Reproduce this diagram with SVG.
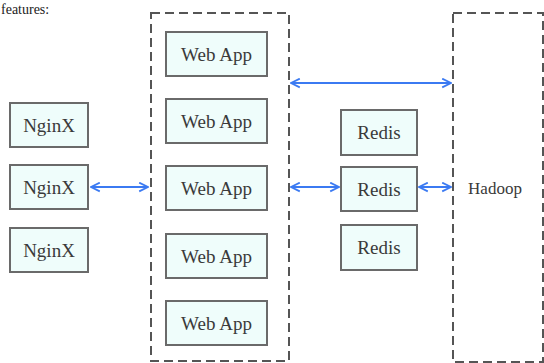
<svg xmlns="http://www.w3.org/2000/svg" width="544" height="363" viewBox="0 0 544 363">
<style>
.box{fill:#effdfb;stroke:#6a6a6a;stroke-width:2}
.lbl{font-family:"Liberation Serif",serif;font-size:19px;fill:#3a3a3a;text-anchor:middle;dominant-baseline:central}
.dash{fill:none;stroke:#555;stroke-width:2;stroke-dasharray:9 5}
.arr{fill:none;stroke:#3b7af2;stroke-width:2;marker-start:url(#ah);marker-end:url(#ah)}
</style>
<defs>
<marker id="ah" viewBox="0 0 10 10" refX="9" refY="5" markerWidth="5.5" markerHeight="5.5" orient="auto-start-reverse" markerUnits="strokeWidth">
<path d="M1,1 L9,5 L1,9" fill="none" stroke="#3b7af2" stroke-width="1.6"/>
</marker>
</defs>
<text x="1" y="14" style="font-family:'Liberation Serif',serif;font-size:14px;fill:#222">features:</text>
<g id="webapp-cluster"><rect class="dash" x="151" y="13" width="138" height="348"/></g>
<g id="hadoop"><rect class="dash" x="453" y="13" width="90" height="349"/><text class="lbl" x="495" y="188" style="font-size:17px">Hadoop</text></g>
<g id="nginx1"><rect class="box" x="10" y="103" width="78" height="44"/><text class="lbl" x="49" y="125">NginX</text></g>
<g id="nginx2"><rect class="box" x="10" y="165" width="78" height="44"/><text class="lbl" x="49" y="187">NginX</text></g>
<g id="nginx3"><rect class="box" x="10" y="228" width="78" height="44"/><text class="lbl" x="49" y="250">NginX</text></g>
<g id="web1"><rect class="box" x="166" y="32" width="101" height="44"/><text class="lbl" x="216.5" y="54">Web App</text></g>
<g id="web2"><rect class="box" x="166" y="99" width="101" height="44"/><text class="lbl" x="216.5" y="121">Web App</text></g>
<g id="web3"><rect class="box" x="166" y="166" width="101" height="44"/><text class="lbl" x="216.5" y="188">Web App</text></g>
<g id="web4"><rect class="box" x="166" y="234" width="101" height="44"/><text class="lbl" x="216.5" y="256">Web App</text></g>
<g id="web5"><rect class="box" x="166" y="301" width="101" height="44"/><text class="lbl" x="216.5" y="323">Web App</text></g>
<g id="redis1"><rect class="box" x="341" y="110" width="76" height="45"/><text class="lbl" x="379" y="132">Redis</text></g>
<g id="redis2"><rect class="box" x="341" y="167" width="76" height="44"/><text class="lbl" x="379" y="189">Redis</text></g>
<g id="redis3"><rect class="box" x="341" y="225" width="76" height="45"/><text class="lbl" x="379" y="247">Redis</text></g>
<g id="connectors">
<line class="arr" x1="291" y1="83" x2="451" y2="83"/>
<line class="arr" x1="91" y1="187" x2="148" y2="187"/>
<line class="arr" x1="291" y1="187" x2="339" y2="187"/>
<line class="arr" x1="419" y1="187" x2="451" y2="187"/>
</g>
</svg>
